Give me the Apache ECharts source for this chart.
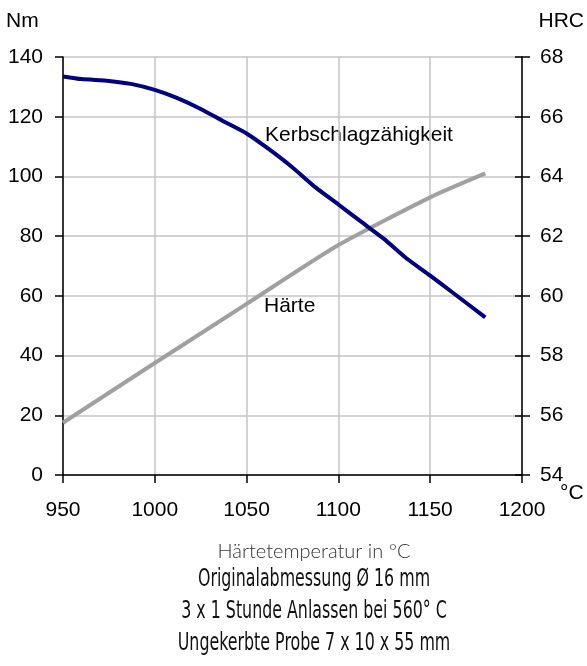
<!DOCTYPE html>
<html>
<head>
<meta charset="utf-8">
<script src="https://cdn.jsdelivr.net/npm/echarts@6/dist/echarts.min.js"></script>
<style>
  html, body { margin: 0; padding: 0; background: #fff; }
  #chart { width: 587px; height: 666px; }
</style>
</head>
<body>
<div id="chart"></div>
<script>
// Kerbschlagzähigkeit (Nm) über Härtetemperatur
var kerbTemp = [950, 960, 975, 987, 1000, 1012, 1025, 1037, 1050, 1062, 1075, 1087, 1100, 1112, 1125, 1137, 1150, 1162, 1180];
var kerbNm   = [133.5, 132.6, 132, 131, 129, 126.3, 122.6, 118.6, 114.4, 109.2, 103, 96.6, 90.6, 85, 79, 72.6, 66.8, 61.2, 52.8];

// Härte (HRC) über Härtetemperatur
var haerteTemp = [950, 1000, 1050, 1100, 1150, 1180];
var haerteHrc  = [55.75, 57.75, 59.73, 61.7, 63.3, 64.1];

var tempTicks = [950, 1000, 1050, 1100, 1150, 1200];
var nmTicks = [0, 20, 40, 60, 80, 100, 120, 140];
var hrcTicks = [54, 56, 58, 60, 62, 64, 66, 68];

var captionLines = ['Originalabmessung Ø 16 mm', '3 x 1 Stunde Anlassen bei 560° C', 'Ungekerbte Probe 7 x 10 x 55 mm'];

var chartDom = document.getElementById('chart');
var myChart = echarts.init(chartDom);
var option;

var arial = '"Liberation Sans", Arial, sans-serif';
var plain = function (v) { return String(v); };
var labelFont = { fontFamily: arial, fontSize: 21, color: '#000', formatter: plain };
var blackLine = { color: '#000', width: 1.5 };

var captions = captionLines.map(function (txt, i) {
  return {
    type: 'text', x: 314, y: 580 + i * 32, scaleX: 0.66,
    style: { text: txt, align: 'center', verticalAlign: 'middle', font: '24px "DejaVu Sans", sans-serif', fill: '#111' }
  };
});

option = {
  animation: false,
  grid: { left: 63, right: 65, top: 57, bottom: 191 },
  xAxis: {
    type: 'value',
    min: tempTicks[0],
    max: tempTicks[tempTicks.length - 1],
    interval: 50,
    axisLine: { show: true, onZero: false, lineStyle: blackLine },
    axisTick: { show: true, length: 8, lineStyle: blackLine },
    axisLabel: Object.assign({ margin: 25 }, labelFont),
    splitLine: { show: true, lineStyle: { color: '#c4c4c4', width: 1.5 } }
  },
  yAxis: [
    {
      type: 'value',
      min: nmTicks[0],
      max: nmTicks[nmTicks.length - 1],
      interval: 20,
      axisLine: { show: true, lineStyle: blackLine },
      axisTick: { show: true, length: 8, lineStyle: blackLine },
      axisLabel: Object.assign({ margin: 20 }, labelFont),
      splitLine: { show: true, lineStyle: { color: '#c4c4c4', width: 1.5 } }
    },
    {
      type: 'value',
      position: 'right',
      min: hrcTicks[0],
      max: hrcTicks[hrcTicks.length - 1],
      interval: 2,
      axisLine: { show: true, lineStyle: blackLine },
      axisTick: { show: true, length: 8, lineStyle: blackLine },
      axisLabel: Object.assign({ margin: 18 }, labelFont),
      splitLine: { show: false }
    },
    {
      // inner half of the crossing ticks on the right axis
      type: 'value',
      position: 'right',
      min: hrcTicks[0],
      max: hrcTicks[hrcTicks.length - 1],
      interval: 2,
      axisLine: { show: false },
      axisTick: { show: true, inside: true, length: 7, lineStyle: blackLine },
      axisLabel: { show: false },
      splitLine: { show: false }
    }
  ],
  series: [
    {
      name: 'Kerbschlagzähigkeit',
      type: 'line',
      yAxisIndex: 0,
      showSymbol: false,
      smooth: 0.2,
      data: kerbTemp.map(function (t, i) { return [t, kerbNm[i]]; }),
      lineStyle: { color: '#000080', width: 4 },
      z: 3
    },
    {
      name: 'Härte',
      type: 'line',
      yAxisIndex: 1,
      showSymbol: false,
      smooth: 0.2,
      data: haerteTemp.map(function (t, i) { return [t, haerteHrc[i]]; }),
      lineStyle: { color: '#a0a0a0', width: 4 },
      z: 2
    }
  ],
  graphic: [
    { type: 'text', left: 6, top: 11, style: { text: 'Nm', font: '21px ' + arial, fill: '#000' } },
    { type: 'text', right: 3, top: 11, style: { text: 'HRC', font: '21px ' + arial, fill: '#000' } },
    { type: 'text', left: 560, top: 483, style: { text: '°C', font: '21px ' + arial, fill: '#000' } },
    { type: 'text', left: 265, top: 125, style: { text: 'Kerbschlagzähigkeit', font: '21px ' + arial, fill: '#000' } },
    { type: 'text', left: 264, top: 296, style: { text: 'Härte', font: '21px ' + arial, fill: '#000' } },
    { type: 'text', x: 314, y: 552, style: { text: 'Härtetemperatur in °C', align: 'center', verticalAlign: 'middle', font: '300 20px Lato, "Open Sans", sans-serif', fill: '#333' } }
  ].concat(captions)
};

option && myChart.setOption(option);
</script>
</body>
</html>
